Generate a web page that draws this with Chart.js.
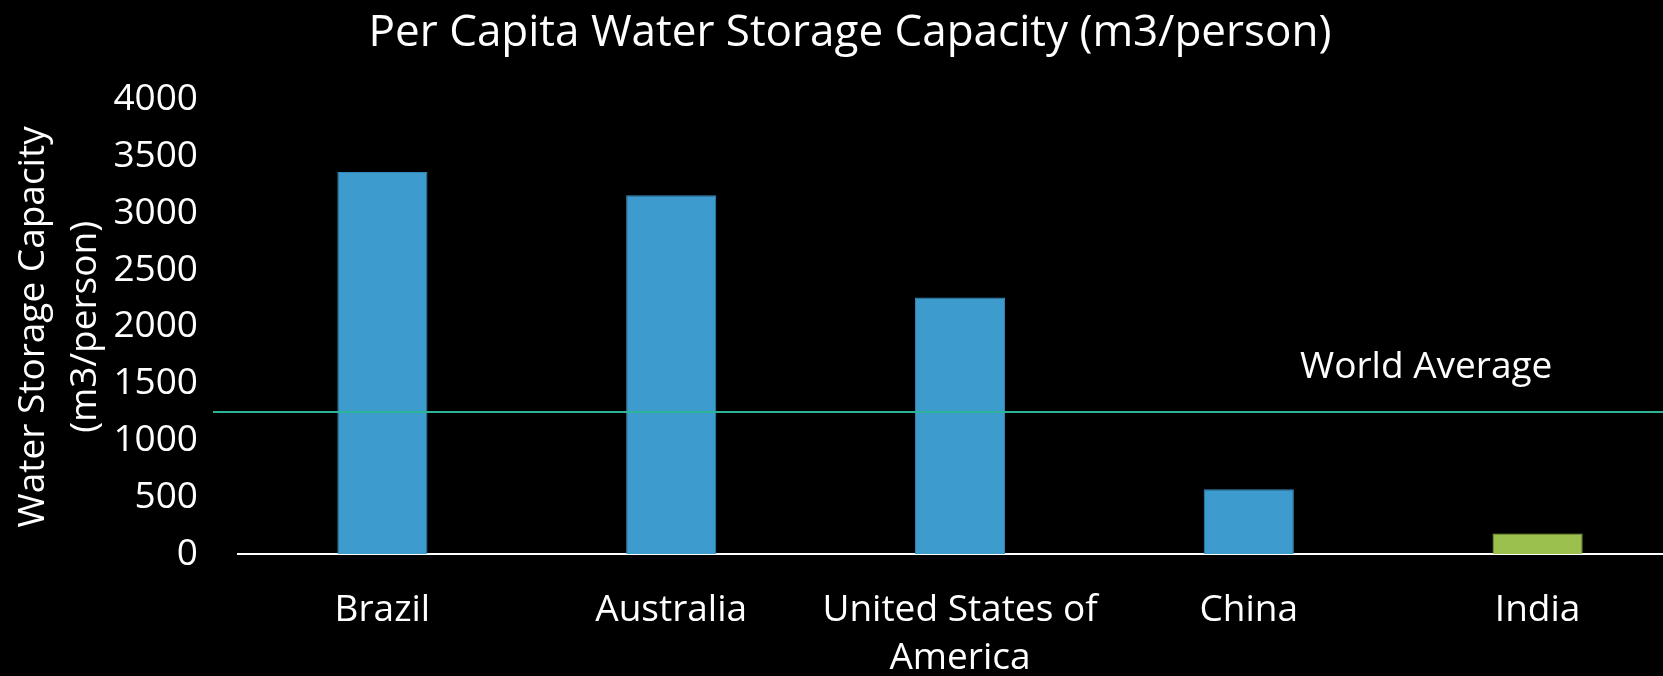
<!DOCTYPE html>
<html>
<head>
<meta charset="utf-8">
<script src="https://cdn.jsdelivr.net/npm/chart.js@4"></script>
<style>
  html, body { margin: 0; padding: 0; background: #000; overflow: hidden; }
  #wrap { width: 1700px; height: 676px; }
</style>
</head>
<body>
<div id="wrap"><canvas id="chart"></canvas></div>
<script>
// Storage capacity per person, by country
const countries = ['Brazil', 'Australia', ['United States of', 'America'], 'China', 'India'];
const capacity = [3365, 3160, 2260, 570, 180];
const barColors = ['#3e9bcd', '#3e9bcd', '#3e9bcd', '#3e9bcd', '#9bc04d'];
const worldAverage = 1250;
const worldAverageLabel = 'World Average';

const FONT = "'Open Sans', sans-serif";

// Horizontal reference line with its caption
const averageLine = {
  id: 'averageLine',
  afterDatasetsDraw(chart) {
    const { ctx, chartArea, scales } = chart;
    const y = scales.y.getPixelForValue(worldAverage);
    ctx.save();
    ctx.strokeStyle = '#2bb596';
    ctx.lineWidth = 2;
    ctx.beginPath();
    ctx.moveTo(chartArea.left - 25, y);
    ctx.lineTo(chart.width, y);
    ctx.stroke();
    ctx.fillStyle = '#ffffff';
    ctx.font = '37px ' + FONT;
    ctx.textBaseline = 'alphabetic';
    ctx.fillText(worldAverageLabel, chartArea.left + 1062, y - 34);
    ctx.restore();
  }
};

new Chart(document.getElementById('chart'), {
  type: 'bar',
  data: {
    labels: countries,
    datasets: [{
      data: capacity,
      backgroundColor: barColors,
      borderColor: ['#3588ba', '#3588ba', '#3588ba', '#3588ba', '#8fb244'],
      borderWidth: 1,
      barPercentage: 1,
      categoryPercentage: 0.312
    }]
  },
  options: {
    responsive: true,
    maintainAspectRatio: false,
    animation: false,
    layout: { padding: { left: 18, right: 18, top: 0, bottom: 0 } },
    plugins: {
      legend: { display: false },
      tooltip: { enabled: false },
      title: {
        display: true,
        text: 'Per Capita Water Storage Capacity (m3/person)',
        color: '#ffffff',
        font: { family: FONT, size: 44, weight: 'normal', lineHeight: 1.2 },
        padding: { top: 7, bottom: 40 }
      }
    },
    scales: {
      x: {
        grid: { display: false },
        border: { display: true, color: '#ffffff', width: 2 },
        ticks: {
          color: '#ffffff',
          font: { family: FONT, size: 37, lineHeight: 1.3 },
          padding: 24,
          maxRotation: 0,
          autoSkip: false
        },
        afterFit(scale) {
          scale.height = 122;
        }
      },
      y: {
        min: 0,
        max: 4000,
        grid: { display: false, drawTicks: false },
        border: { display: false },
        ticks: {
          stepSize: 500,
          color: '#ffffff',
          font: { family: FONT, size: 37 },
          padding: 40,
          callback: (value) => String(value)
        },
        title: {
          display: true,
          text: ['Water Storage Capacity', '(m3/person)'],
          color: '#ffffff',
          font: { family: FONT, size: 37, lineHeight: 1.4 },
          padding: { top: -10, bottom: 0 }
        },
        afterFit(scale) {
          scale.width = 220;
        }
      }
    }
  },
  plugins: [averageLine]
});
</script>
</body>
</html>
